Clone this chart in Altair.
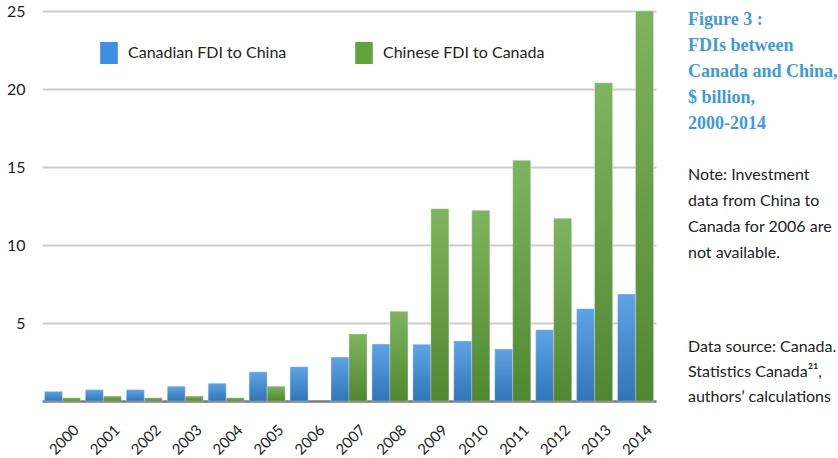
import altair as alt
import pandas as pd

# Foreign direct investment between Canada and China, $ billion
years = [str(y) for y in range(2000, 2015)]
canada_to_china = [0.62, 0.73, 0.73, 0.95, 1.14, 1.87, 2.20, 2.82, 3.66,
                   3.63, 3.85, 3.33, 4.57, 5.92, 6.86]
# 2006 figure for China -> Canada is not available
china_to_canada = [0.21, 0.32, 0.21, 0.32, 0.21, 0.95, None, 4.29, 5.75,
                   12.33, 12.22, 15.43, 11.71, 20.40, 25.00]

series_names = ["Canadian FDI to China", "Chinese FDI to Canada"]
series_colors = ["#3c8fe2", "#62a43a"]
y_ticks = [5, 10, 15, 20, 25]

title_lines = ["Figure 3 :", "FDIs between", "Canada and China,", "$ billion,", "2000-2014"]
note_lines = ["Note: Investment", "data from China to", "Canada for 2006 are", "not available."]
source_lines = ["Data source: Canada.", "Statistics Canada\u00b2\u00b9,", "authors\u2019 calculations"]

df = pd.DataFrame({
    "year": years * 2,
    "series": [series_names[0]] * len(years) + [series_names[1]] * len(years),
    "value": canada_to_china + china_to_canada,
})

SANS = "Lato"
INK = "#222222"

x_enc = alt.X(
    "year:O",
    scale=alt.Scale(paddingInner=0.12, paddingOuter=0.06),
    axis=alt.Axis(
        title=None, labelAngle=-45, labelAlign="right", labelBaseline="middle",
        labelFont=SANS, labelFontSize=15, labelColor=INK, labelOffset=14,
        labelPadding=26, ticks=False, domainColor="#7a7a7a", domainWidth=2.5,
        grid=False,
    ),
)
y_enc = alt.Y(
    "value:Q",
    scale=alt.Scale(domain=[0, 25], nice=False),
    axis=alt.Axis(
        title=None, values=y_ticks, ticks=False, domain=False,
        labelFont=SANS, labelFontSize=16, labelColor=INK, labelPadding=17,
        gridColor="#cccccc", gridWidth=2,
    ),
)
xoff = alt.XOffset("series:N", scale=alt.Scale(domain=series_names, paddingInner=0, paddingOuter=0))

base = alt.Chart(df)

bars = base.mark_bar(stroke="#ffffff", strokeWidth=0.6, strokeOpacity=0.6).encode(
    x=x_enc,
    y=y_enc,
    xOffset=xoff,
    color=alt.Color(
        "series:N",
        scale=alt.Scale(domain=series_names, range=series_colors),
        legend=alt.Legend(
            title=None, orient="none", legendX=56, legendY=31, direction="horizontal",
            symbolType="M-0.8,-1H0.8V1H-0.8Z", symbolSize=484, symbolStrokeWidth=0,
            labelFont=SANS, labelFontSize=16, labelColor=INK, labelOffset=8,
            labelLimit=400, columnPadding=66,
        ),
    ),
)

# soft vertical shading on each bar: lighter at the top, darker at the base
sheen = base.mark_bar(
    fill=alt.Gradient(
        gradient="linear", x1=0, x2=0, y1=0, y2=1,
        stops=[
            alt.GradientStop(color="rgba(255,255,255,0.18)", offset=0),
            alt.GradientStop(color="rgba(0,0,0,0.18)", offset=1),
        ],
    )
).encode(x="year:O", y="value:Q", xOffset="series:N")

one = pd.DataFrame({"k": [0]})

title_text = alt.Chart(one).mark_text(
    text=title_lines, align="left", baseline="alphabetic", lineHeight=26,
    font="Liberation Serif", fontWeight="bold", fontSize=18, color="#3d9ade",
).encode(x=alt.value(646), y=alt.value(14))

note_text = alt.Chart(one).mark_text(
    text=note_lines, align="left", baseline="alphabetic", lineHeight=26,
    font=SANS, fontSize=16, color=INK,
).encode(x=alt.value(646), y=alt.value(169))

source_text = alt.Chart(one).mark_text(
    text=source_lines, align="left", baseline="alphabetic", lineHeight=25,
    font=SANS, fontSize=16, color=INK,
).encode(x=alt.value(646), y=alt.value(341))

chart = alt.layer(bars, sheen, title_text, note_text, source_text).properties(
    width=614, height=390,
    autosize=alt.AutoSizeParams(type="none"),
    padding={"left": 42, "top": 11, "right": 182, "bottom": 57},
    background="#ffffff",
).configure_view(stroke=None)

chart.save("out.html", embed_options={"renderer": "svg", "actions": False})
